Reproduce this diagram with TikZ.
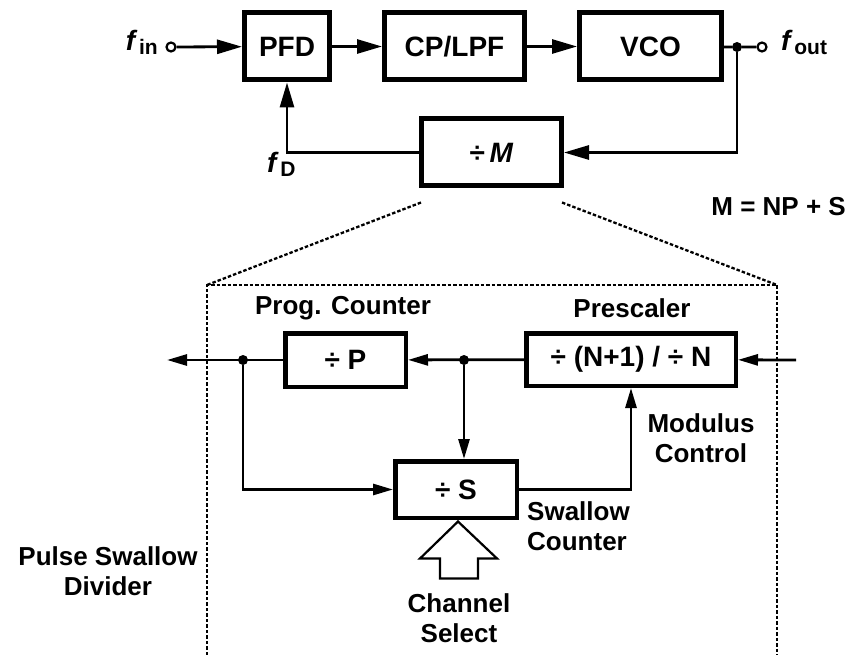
\documentclass[tikz,border=0pt]{standalone}
\usepackage{fontspec}
\setmainfont{Liberation Sans}
\usetikzlibrary{calc,arrows.meta}
\newcommand{\fsig}[1]{\textit{f}\kern1.5pt\raisebox{-4pt}{\fontsize{21}{21}\bfseries #1}}

\begin{document}
\begin{tikzpicture}[x=1pt,y=-1pt,
  blk/.style={draw, line width=5pt, minimum height=67pt, inner sep=0pt, font=\fontsize{28}{32}\bfseries},
  sblk/.style={draw, line width=4.5pt, inner sep=0pt, font=\fontsize{28}{32}\bfseries},
  lbl/.style={font=\fontsize{26}{30}\bfseries, align=center, inner sep=0pt},
  wire/.style={line width=2.8pt},
  arr/.style={wire, -{Triangle[length=25pt,width=14pt]}},
  sarr/.style={wire, -{Triangle[length=20pt,width=11pt]}},
  dot/.style={circle, fill, inner sep=0pt, minimum size=10pt},
  port/.style={circle, draw, line width=2.2pt, fill=white, inner sep=0pt, minimum size=9pt},
  dsh/.style={line width=2.3pt, dash pattern=on 3.5pt off 2pt}]
\useasboundingbox (0,0) rectangle (849,655);

\node[blk, minimum width=85pt] (pfd) at (287,46.5) {PFD};
\node[blk, minimum width=140pt] (lpf) at (454.5,46.5) {CP/LPF};
\node[blk, minimum width=142pt] (vco) at (650.5,46.5) {VCO};
\node[blk, minimum width=140pt] (divm) at (491.5,152.5) {÷\,\textit{M}};
\node[port] (fin) at (171,47) {};
\node[dot] (d1) at (737,47) {};
\node[port] (fout) at (762,47) {};
\node[anchor=base east, inner sep=0pt, font=\fontsize{28}{32}\bfseries] (finl) at (158,51) {\fsig{in}};
\node[anchor=base west, inner sep=0pt, font=\fontsize{28}{32}\bfseries] (foutl) at (781,51) {\fsig{out}};
\node[anchor=base west, inner sep=0pt, font=\fontsize{28}{32}\bfseries] (fdl) at (267,173) {\fsig{D}};
\node[lbl, anchor=east] (eq) at (846,207) {M = NP + S};

\draw[arr] (fin) -- (pfd);
\draw[arr] (pfd) -- (lpf);
\draw[arr] (lpf) -- (vco);
\draw[wire] (vco) -- (d1) -- (fout);
\draw[arr] (d1) |- (divm);
\draw[arr] (divm) -| (pfd);

\coordinate (tl) at (207,285);
\coordinate (tr) at (777,285);
\draw[dsh] ($(divm.south west)+(2,14)$) -- (tl);
\draw[dsh] ($(divm.south east)+(-2,14)$) -- (tr);
\draw[dsh] (207,655) -- (tl) -- (tr) -- (777,655);

\node[sblk, minimum width=120.5pt, minimum height=53.5pt] (divp) at (345.5,360) {÷ P};
\node[sblk, minimum width=209.5pt, minimum height=52.5pt] (pre) at (631,359.5) {÷ (N+1) / ÷ N};
\node[sblk, minimum width=121.5pt, minimum height=56.5pt] (divs) at (456,489.5) {÷ S};
\node[lbl] (pcl) at (343,308) {Prog. Counter};
\node[lbl] (prl) at (632,308) {Prescaler};
\node[dot] (d2) at (243,360) {};
\node[dot] (d3) at (464,360) {};
\coordinate (out) at (167,360);
\coordinate (in) at (796,360);

\draw[sarr] (divp) -- (out);
\draw[sarr] (pre) -- (divp);
\draw[sarr] (in) -- (pre);
\draw[sarr] (d2) |- (divs);
\draw[sarr] (d3) -- (d3 |- divs.north);
\draw[sarr] (divs) -| (pre);

\draw[line width=2.2pt] ($(divs.south)+(2,1.5)$) -- ++(39,37) -- ++(-19,0) -- ++(0,20) -- ++(-38,0) -- ++(0,-20) -- ++(-20,0) -- cycle;

\node[lbl] (mcl) at (701,438) {Modulus\\Control};
\node[lbl, align=left, anchor=north west] (scl) at (527,501) {Swallow\\Counter};
\node[lbl] (psd) at (108,571) {Pulse Swallow\\Divider};
\node[lbl] (csl) at (459,618) {Channel\\Select};
\end{tikzpicture}
\end{document}
